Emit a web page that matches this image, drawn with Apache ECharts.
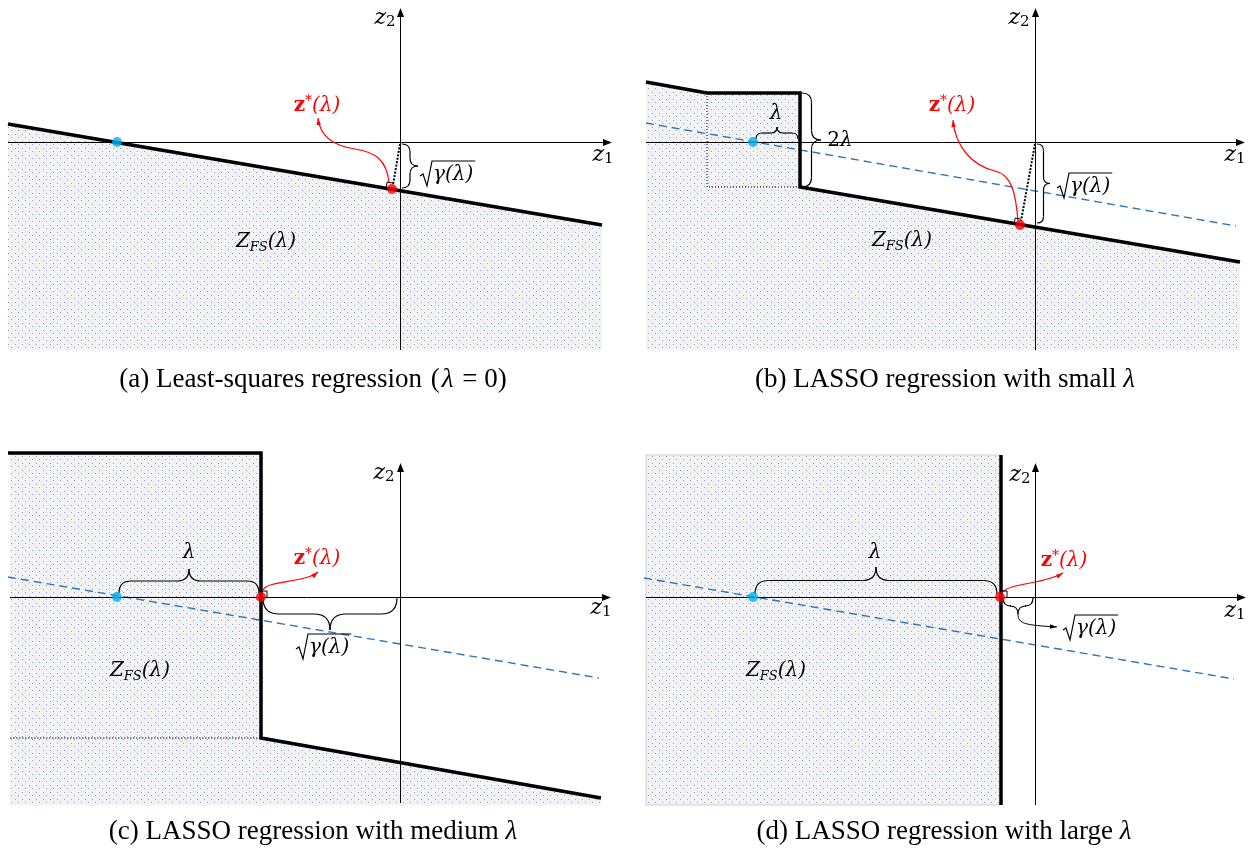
<!DOCTYPE html>
<html>
<head>
<meta charset="utf-8">
<script src="https://cdn.jsdelivr.net/npm/echarts@6/dist/echarts.min.js"></script>
<style>html,body{margin:0;padding:0;background:#fff}#chart{width:1250px;height:852px}</style>
</head>
<body>
<div id="chart"></div>
<script>
// ---------- data: each panel uses origin-relative units (1 unit = 1 px, z2 upward) ----------
const panelOrigins = [[400,142],[1035,142],[400,597],[1035,597]];
const xRange = [-400, 215];
const yRange = [-215, 142];

// axis extents [z1min, z1max, z2min, z2max]
const axesA = [-392, 212, -208, 134];
const axesB = [-389, 210, -208, 134];
const axesC = [-390, 211, -206, 134];
const axesD = [-389, 211, -208, 134];

// (a) least squares
const regionA = [[-392,18],[202,-83],[202,-208],[-392,-208]];
const boundaryA = [[-392,18],[202,-83]];
const lsA = [[-283,0]];
const solA = [[-8,-47]];
const perpA = [[0,-2],[-7,-43]];
const braceGammaA = [[2,-2],[2,-46]];
const curveA = [[-11,-41],[-13,-18],[-25,-10],[-45,-7],[-65,-4],[-80,4],[-82,24]];

// (b) small lambda
const regionB = [[-389,60],[-328,49],[-235,49],[-235,-45],[205,-120],[205,-208],[-389,-208]];
const boundaryB = [[-389,60],[-328,49],[-235,49],[-235,-45],[205,-120]];
const dottedB = [[-328,49],[-328,-45],[-235,-45]];
const dashedB = [[-389,19],[201,-84]];
const lsB = [[-282,0]];
const solB = [[-15,-83]];
const perpB = [[0,-2],[-14,-79]];
const braceLambdaB = [[-279,3],[-237,3]];
const braceTwoLambdaB = [[-233,49],[-233,-45]];
const braceGammaB = [[2,-2],[2,-81]];
const curveB = [[-17,-79],[-19,-55],[-22,-33],[-40,-29],[-62,-24],[-80,-5],[-82,22]];

// (c) medium lambda
const regionC = [[-390,144],[-139,144],[-139,-141],[201,-201],[201,-208],[-390,-208]];
const boundaryC = [[-392,144],[-139,144],[-139,-141],[201,-201]];
const dottedC = [[-390,-141],[-139,-141]];
const dashedC = [[-392,20],[199,-81]];
const lsC = [[-283,0]];
const solC = [[-139,0]];
const braceLambdaC = [[-281,4],[-141,4]];
const braceGammaC = [[-137,-1],[-3,-1]];
const curveC = [[-137,7],[-132,17],[-95,14],[-82,25]];

// (d) large lambda
const regionD = [[-389,142],[-34,142],[-34,-208],[-389,-208]];
const boundaryD = [[-34,142],[-34,-208]];
const dashedD = [[-391,19],[199,-82]];
const lsD = [[-282,0]];
const solD = [[-35,0]];
const braceLambdaD = [[-280,3],[-38,3]];
const braceGammaD = [[-32,-1],[-2,-1]];
const pointerD = [[-17,-17],[-17,-27],[-10,-28],[22,-30]];
const curveD = [[-32,5],[-25,14],[10,13],[28,24]];

// label anchor positions
const zstarPos = [[-83,36],[-83,36],[-83,38],[29,36]];
const zfsPos = [[-134,-100],[-133,-99],[-260,-74],[-259,-74]];
const sqrtPos = [[20,-32],[22,-44],[-104,-50],[28,-31]];
const z1Pos = [[203,-13],[200,-13],[201,-11],[200,-14]];
const z2Pos = [[-15,124],[-16,124],[-16,124],[-15,122]];
const lambdaPos = [null,[-259,28],[-211,44],[-160,44]];
const twoLambdaPos = [null,[-195,1],null,null];

// captions
const captionTexts = [
  ['(a) Least-squares regression ', '(', 'λ', ' = 0)'],
  ['(b) LASSO regression with small ', '', 'λ', ''],
  ['(c) LASSO regression with medium ', '', 'λ', ''],
  ['(d) LASSO regression with large ', '', 'λ', '']
];
const captionPos = [[314,380],[945,380],[313,832],[944,832]];

// ---------- helpers ----------
const MF = 'DejaVu Serif';
const CF = 'Liberation Serif';
const mctx = document.createElement('canvas').getContext('2d');
function measure(font, s){ mctx.font = font; return mctx.measureText(s).width; }

function makePattern(){
  const c = document.createElement('canvas'); c.width = 7; c.height = 7;
  const g = c.getContext('2d');
  g.fillStyle = '#f2f2f2'; g.fillRect(0,0,7,7);
  g.fillStyle = 'rgba(80,120,210,0.65)';
  g.fillRect(1,1,1,1); g.fillRect(4,4,1,1);
  return c;
}
const PATTERN = {image: makePattern(), repeat: 'repeat'};

function mrich(color){ return {
  i:{fontFamily:MF,fontStyle:'italic',fontSize:20,fill:color,lineHeight:24},
  r:{fontFamily:MF,fontSize:20,fill:color,lineHeight:24},
  b:{fontFamily:MF,fontWeight:'bold',fontSize:20,fill:color,lineHeight:24},
  sup:{fontFamily:MF,fontSize:14,fill:color,verticalAlign:'top',lineHeight:14},
  sub:{fontFamily:MF,fontStyle:'italic',fontSize:13,fill:color,verticalAlign:'bottom',lineHeight:14},
  zi:{fontFamily:MF,fontStyle:'italic',fontSize:22,fill:color,lineHeight:24},
  zs:{fontFamily:MF,fontSize:15,fill:color,verticalAlign:'bottom',lineHeight:15}
};}
function txt(p, text, color, align){
  return {type:'text', x:p[0], y:p[1], style:{text:text, rich:mrich(color), align:align||'center', verticalAlign:'middle'}};
}
function add(a,b,s){ return [a[0]+b[0]*s, a[1]+b[1]*s]; }
function strokeStyle(color,w){ return {fill:'none', stroke:color, lineWidth:w}; }
function qb(p0,c,p1,st){ return {type:'bezierCurve', shape:{x1:p0[0],y1:p0[1],cpx1:c[0],cpy1:c[1],x2:p1[0],y2:p1[1]}, style:st}; }
function cb(p0,c1,c2,p1,st){ return {type:'bezierCurve', shape:{x1:p0[0],y1:p0[1],cpx1:c1[0],cpy1:c1[1],cpx2:c2[0],cpy2:c2[1],x2:p1[0],y2:p1[1]}, style:st}; }
function seg(p0,p1,st){ return {type:'line', shape:{x1:p0[0],y1:p0[1],x2:p1[0],y2:p1[1]}, style:st}; }
function brace(p1,p2,w){
  const dx=p2[0]-p1[0], dy=p2[1]-p1[1], L=Math.hypot(dx,dy);
  const t=[dx/L,dy/L], sg=w<0?-1:1, d=Math.abs(w), h=d/2;
  const n=[t[1]*sg,-t[0]*sg];
  const m=[(p1[0]+p2[0])/2,(p1[1]+p2[1])/2];
  const st=strokeStyle('#000',1.2);
  const a1=add(p1,n,h), a2=add(a1,t,h);
  const mh=add(m,n,h), tip=add(m,n,d);
  const b1=add(p2,n,h), b2=add(b1,t,-h);
  return [qb(p1,a1,a2,st), seg(a2,add(mh,t,-h),st), qb(add(mh,t,-h),mh,tip,st),
          qb(p2,b1,b2,st), seg(b2,add(mh,t,h),st), qb(add(mh,t,h),mh,tip,st)];
}
function head(tip, from, L, W, color){
  const dx=tip[0]-from[0], dy=tip[1]-from[1], d=Math.hypot(dx,dy), ux=dx/d, uy=dy/d;
  const bx=tip[0]-ux*L, by=tip[1]-uy*L;
  return {type:'polygon', shape:{points:[[tip[0],tip[1]],[bx-uy*W/2,by+ux*W/2],[bx+uy*W/2,by-ux*W/2]]}, style:{fill:color}};
}
function curveEls(pts, color, w){
  const st=strokeStyle(color,w), out=[];
  for(let i=0;i+3<pts.length;i+=3) out.push(cb(pts[i],pts[i+1],pts[i+2],pts[i+3],st));
  out.push(head(pts[pts.length-1], pts[pts.length-2], 7, 4.5, color));
  return out;
}
function sqrtEls(p){
  const w = measure('italic 20px "DejaVu Serif"', 'γ(λ)');
  const x=p[0], y=p[1];
  return [
    {type:'polyline', shape:{points:[[x,y+2],[x+3,y],[x+7,y+12],[x+12,y-13],[x+15+w,y-13]]}, style:strokeStyle('#000',1.2)},
    {type:'text', x:x+13, y:y+1, style:{text:'{i|γ(λ)}', rich:mrich('#000'), align:'left', verticalAlign:'middle'}}
  ];
}

const panels = [
  {region:regionA, boundary:boundaryA, dashed:null, dotted:null, ls:lsA, sol:solA, perp:perpA, axes:axesA,
   braces:[[braceGammaA,16]], curve:curveA, pointer:null, raFoot:solA[0], raAlong:boundaryA[0], regionStroke:null},
  {region:regionB, boundary:boundaryB, dashed:dashedB, dotted:dottedB, ls:lsB, sol:solB, perp:perpB, axes:axesB,
   braces:[[braceLambdaB,12],[braceTwoLambdaB,19],[braceGammaB,13]], curve:curveB, pointer:null, raFoot:solB[0], raAlong:boundaryB[3], regionStroke:null,
   dottedStyle:{color:'#000', width:1, type:[1,2]}},
  {region:regionC, boundary:boundaryC, dashed:dashedC, dotted:dottedC, ls:lsC, sol:solC, perp:null, axes:axesC,
   braces:[[braceLambdaC,24],[braceGammaC,-32]], curve:curveC, pointer:null, raFoot:solC[0], raAlong:boundaryC[1], regionStroke:null,
   dottedStyle:{color:'#666', width:1.6, type:[1.5,1.5]}},
  {region:regionD, boundary:boundaryD, dashed:dashedD, dotted:null, ls:lsD, sol:solD, perp:null, axes:axesD,
   braces:[[braceLambdaD,27],[braceGammaD,-16]], curve:curveD, pointer:pointerD, raFoot:[boundaryD[0][0],0], raAlong:boundaryD[0], regionStroke:'#d0d0d0'}
];

const grids=[], xAxes=[], yAxes=[], series=[];
panelOrigins.forEach((o,k)=>{
  grids.push({left:o[0]+xRange[0], top:o[1]-yRange[1], width:xRange[1]-xRange[0], height:yRange[1]-yRange[0], show:false});
  xAxes.push({type:'value', gridIndex:k, min:xRange[0], max:xRange[1], show:false});
  yAxes.push({type:'value', gridIndex:k, min:yRange[0], max:yRange[1], show:false});
});

panels.forEach((P,k)=>{
  const base = {xAxisIndex:k, yAxisIndex:k, silent:true, animation:false};
  series.push(Object.assign({type:'custom', z:1, data:[[0,0]], renderItem:(pa,api)=>({
    type:'polygon', shape:{points:P.region.map(q=>api.coord(q))},
    style:{fill:PATTERN, stroke:P.regionStroke||null, lineWidth:1}})}, base));
  if(P.dashed) series.push(Object.assign({type:'line', z:2, data:P.dashed, symbol:'none', clip:false,
    lineStyle:{color:'#2e75b6', width:1.4, type:[8,5]}}, base));
  series.push(Object.assign({type:'custom', z:3, data:[[0,0]], renderItem:(pa,api)=>{
    const ax=P.axes;
    const xl=api.coord([ax[0],0]), xr=api.coord([ax[1],0]), yb=api.coord([0,ax[2]]), yt=api.coord([0,ax[3]]);
    const y0=xl[1]+0.5, x0=yb[0]+0.5, st={stroke:'#000', lineWidth:1};
    return {type:'group', children:[
      {type:'line', shape:{x1:xl[0],y1:y0,x2:xr[0]-6,y2:y0}, style:st},
      {type:'polygon', shape:{points:[[xr[0],y0],[xr[0]-9,y0-3.5],[xr[0]-9,y0+3.5]]}, style:{fill:'#000'}},
      {type:'line', shape:{x1:x0,y1:yb[1],x2:x0,y2:yt[1]+6}, style:st},
      {type:'polygon', shape:{points:[[x0,yt[1]],[x0-3.5,yt[1]+9],[x0+3.5,yt[1]+9]]}, style:{fill:'#000'}}
    ]};
  }}, base));
  if(P.dotted) series.push(Object.assign({type:'line', z:4, data:P.dotted, symbol:'none', clip:false, lineStyle:P.dottedStyle}, base));
  series.push(Object.assign({type:'line', z:5, data:P.boundary, symbol:'none', clip:false,
    lineStyle:{color:'#000', width:3.5, join:'miter', cap:'butt'}}, base));
  if(P.perp) series.push(Object.assign({type:'line', z:6, data:P.perp, symbol:'none', clip:false,
    lineStyle:{color:'#000', width:2, type:[2,1.5]}}, base));
  series.push(Object.assign({type:'custom', z:7, data:[[0,0]], renderItem:(pa,api)=>{
    const c=q=>api.coord(q), ch=[];
    P.braces.forEach(b=>{ brace(c(b[0][0]),c(b[0][1]),b[1]).forEach(e=>ch.push(e)); });
    curveEls(P.curve.map(c), '#ff0000', 1.2).forEach(e=>ch.push(e));
    if(P.pointer) curveEls(P.pointer.map(c), '#000', 1).forEach(e=>ch.push(e));
    const F=c(P.raFoot), A=c(P.raAlong), O=c([0,0]);
    const ua=[(A[0]-F[0]),(A[1]-F[1])], la=Math.hypot(ua[0],ua[1]);
    const ub=[(O[0]-F[0]),(O[1]-F[1])], lb=Math.hypot(ub[0],ub[1]);
    const a=[ua[0]/la,ua[1]/la], bb=[ub[0]/lb,ub[1]/lb], s=6;
    ch.push({type:'polyline', shape:{points:[add(F,a,s), add(add(F,a,s),bb,s), add(F,bb,s)]}, style:strokeStyle('#000',1)});
    ch.push(txt(c(zstarPos[k]), '{b|z}{sup|*}{i|(λ)}', '#ff0000'));
    ch.push(txt(c(zfsPos[k]), '{i|Z}{sub|FS}{i|(λ)}', '#000'));
    ch.push(txt(c(z1Pos[k]), '{zi|z}{zs|1}', '#000'));
    ch.push(txt(c(z2Pos[k]), '{zi|z}{zs|2}', '#000'));
    if(lambdaPos[k]) ch.push(txt(c(lambdaPos[k]), '{i|λ}', '#000'));
    if(twoLambdaPos[k]) ch.push(txt(c(twoLambdaPos[k]), '{r|2}{i|λ}', '#000'));
    sqrtEls(c(sqrtPos[k])).forEach(e=>ch.push(e));
    return {type:'group', children:ch};
  }}, base));
  series.push(Object.assign({type:'scatter', z:8, data:P.ls, symbol:'circle', symbolSize:10, itemStyle:{color:'#00b0f0'}, clip:false}, base));
  series.push(Object.assign({type:'scatter', z:8, data:P.sol, symbol:'circle', symbolSize:10, itemStyle:{color:'#ff0000'}, clip:false}, base));
});

const capRich = {
  r:{fontFamily:CF, fontSize:27, fill:'#000'},
  m:{fontFamily:CF, fontSize:27, fill:'#000', padding:[0,2,0,2]},
  i:{fontFamily:CF, fontSize:27, fontStyle:'italic', fill:'#000'}
};
const graphic = captionTexts.map((t,k)=>({
  type:'text', x:captionPos[k][0], y:captionPos[k][1], silent:true,
  style:{text:'{r|'+t[0]+'}'+(t[1]?'{m|'+t[1]+'}':'')+'{i|'+t[2]+'}'+(t[3]?'{m|'+t[3]+'}':''), rich:capRich, align:'center', verticalAlign:'middle'}
}));

const chart = echarts.init(document.getElementById('chart'));
chart.setOption({
  animation:false,
  backgroundColor:'#ffffff',
  grid:grids, xAxis:xAxes, yAxis:yAxes,
  series:series,
  graphic:graphic
});
</script>
</body>
</html>
